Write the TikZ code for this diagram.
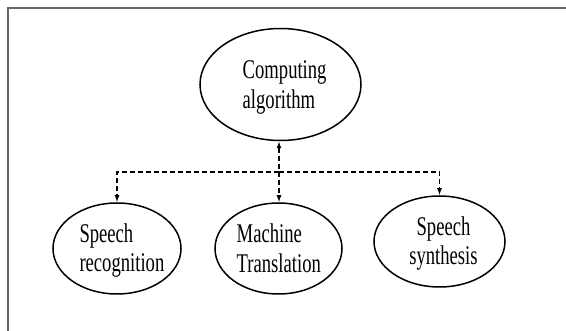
\documentclass[tikz,border=0pt]{standalone}
\usepackage{fontspec}
\setmainfont{Liberation Serif}
\newfontfamily\tnr[FakeStretch=0.69]{Liberation Serif}
\usetikzlibrary{shapes.geometric,arrows.meta}
\tikzset{
  bubble/.style={draw, ellipse, line width=1.5pt, inner sep=0pt},
  lbl/.style={font=\tnr\fontsize{27}{29.3}\selectfont, align=left, inner sep=0pt, anchor=base west},
  conn/.style={line width=1.3pt, dash pattern=on 5pt off 3pt},
  tip/.style={-{Latex[length=7pt,width=5pt]}},
  frame/.style={draw=black!60, line width=2.2pt}
}
\begin{document}
\begin{tikzpicture}[x=1pt,y=-1pt]
\useasboundingbox (0,0) rectangle (566,331);
\draw[frame] (8,332) -- (8,8) -- (567,8);
% ellipses
\node[bubble, minimum width=161pt, minimum height=112pt] (top) at (280.5,84.5) {};
\node[bubble, minimum width=128pt, minimum height=91pt] (sr) at (117,248.5) {};
\node[bubble, minimum width=127pt, minimum height=91pt] (mt) at (278.5,248.5) {};
\node[bubble, minimum width=131pt, minimum height=91pt] (ss) at (439.5,241.5) {};
% labels (anchor = baseline of the last line)
\node[lbl] (ltop) at (242.5,108.3) {Computing\\algorithm};
\node[lbl] (lsr) at (79.3,271.8) {Speech\\recognition};
\node[lbl] (lmt) at (236.5,272.3) {Machine\\Translation};
\node[lbl, align=center, anchor=base] (lss) at (443.5,264.5) {Speech\\synthesis};
% connectors
\coordinate (j) at (279,172);
\draw[conn, {Latex[length=7pt,width=5pt]}-{Latex[length=7pt,width=5pt]}] (top.south -| j) -- (mt.north -| j);
\draw[conn, tip] (j) -| (sr.north);
\draw[conn, tip] (j) -| (ss.north);
\end{tikzpicture}
\end{document}
